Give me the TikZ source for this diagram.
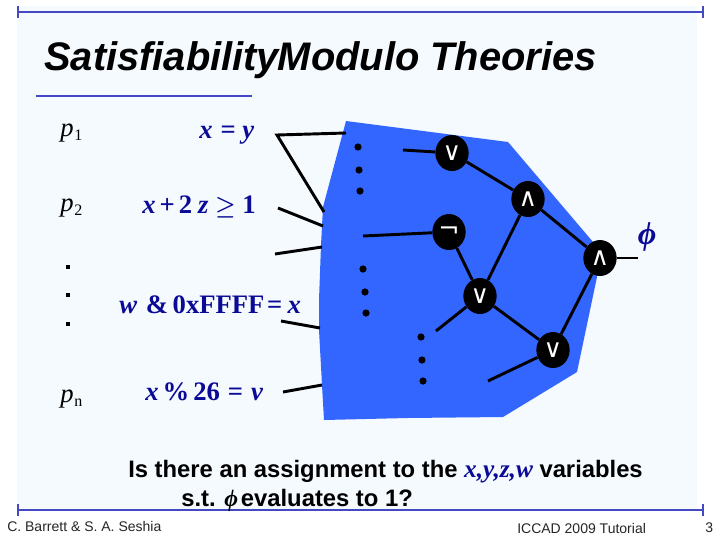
\documentclass[tikz,border=0pt]{standalone}
\usetikzlibrary{shapes.geometric}
\usepackage{amsmath}
\usepackage{fontspec}
\setmainfont{Liberation Sans}
\newfontfamily\tms{Liberation Serif}
\newfontfamily\djv{DejaVu Sans}
\begin{document}
\begin{tikzpicture}[x=0.75pt,y=-0.75pt,
 rule/.style={draw=rulecol,line width=2pt},
 wire/.style={draw=black,line width=2.2pt},
 gate/.style={ellipse,fill=black,minimum width=25pt,minimum height=27pt,inner sep=0pt,text=white,font=\djv\fontsize{19}{19}\selectfont},
 prop/.style={text=navy,font=\tms\bfseries\fontsize{20}{22}\selectfont,inner sep=0pt},
 pvar/.style={font=\tms\itshape\fontsize{20}{22}\selectfont,inner sep=0pt,text=black},
 blob/.style={circle,fill=black,inner sep=0pt,minimum width=5.4pt},
 tiny/.style={rectangle,fill=black,inner sep=0pt,minimum width=2.4pt,minimum height=2.4pt},
 qtext/.style={font=\bfseries\fontsize{17.85}{20}\selectfont,inner sep=0pt},
 foot/.style={font=\fontsize{10.5}{12}\selectfont,inner sep=0pt,text=black!85}]
\definecolor{rulecol}{HTML}{4448C4}
\definecolor{navy}{HTML}{0A0A96}
\definecolor{bluefill}{HTML}{3366FF}
\definecolor{pale}{HTML}{F5FAFF}
\useasboundingbox (0,0) rectangle (720,540);
\fill[white] (0,0) rectangle (720,540);
\fill[pale] (17,6) rectangle (697,510);
\draw[rule] (18,12) -- (703,12);
\draw[rule] (18,6) -- (18,18);
\draw[rule] (703,6) -- (703,18);
\draw[rule] (18,510) -- (703,510);
\draw[rule] (18,504) -- (18,516);
\draw[rule] (703,504) -- (703,516);
\draw[rule] (36,96) -- (252,96);
\node[anchor=base west,inner sep=0pt,font=\bfseries\itshape\fontsize{29.9}{32}\selectfont] (title) at (44,70) {Satisfiability\kern-1pt Modulo Theories};
% blue region
\fill[bluefill] (346,121) -- (508,142) -- (593,242) -- (597,277) -- (577,372) -- (503,417) -- (407,418) -- (324,420) -- (322,385) -- (319,330) -- (319,300) -- (321,245) -- (323,207) -- cycle;
% free ends
\coordinate (a1) at (277,135);
\coordinate (a2) at (346,133);
\coordinate (a3) at (324,212);
\coordinate (b1) at (278,208);
\coordinate (b2) at (323,226);
\coordinate (c1) at (275,254);
\coordinate (c2) at (322,247);
\coordinate (d1) at (281,321);
\coordinate (d2) at (320,328);
\coordinate (e1) at (283,392);
\coordinate (e2) at (322,385);
\coordinate (f1) at (403,150);
\coordinate (f2) at (363,236);
\coordinate (f3) at (436,331);
\coordinate (f4) at (488,381);
\coordinate (out) at (638,258);
\draw[wire] (a2) -- (a1) -- (a3);
\draw[wire] (b1) -- (b2);
\draw[wire] (c1) -- (c2);
\draw[wire] (d1) -- (d2);
\draw[wire] (e1) -- (e2);
% gates
\node[gate] (or1) at (452,153) {∨};
\node[gate] (and1) at (528,199) {∧};
\node[gate] (not1) at (449,232) {¬};
\node[gate] (and2) at (600,258) {∧};
\node[gate] (or2) at (480,296) {∨};
\node[gate] (or3) at (553,350) {∨};
\draw[wire] (f1) -- (or1);
\draw[wire] (or1) -- (and1);
\draw[wire] (and1) -- (and2);
\draw[wire] (and1) -- (or2);
\draw[wire] (f2) -- (not1);
\draw[wire] (not1) -- (or2);
\draw[wire] (or2) -- (f3);
\draw[wire] (or2) -- (or3);
\draw[wire] (and2) -- (or3);
\draw[wire] (or3) -- (f4);
\draw[wire] (and2) -- (out);
% dots
\node[blob] (p1) at (358,147) {};
\node[blob] (p2) at (359,170) {};
\node[blob] (p3) at (360,191) {};
\node[blob] (p4) at (363,269) {};
\node[blob] (p5) at (365,292) {};
\node[blob] (p6) at (366,313) {};
\node[blob] (p7) at (421,337) {};
\node[blob] (p8) at (422,360) {};
\node[blob] (p9) at (423,381) {};
\node[tiny] (v1) at (68,267) {};
\node[tiny] (v2) at (68,295) {};
\node[tiny] (v3) at (68,324) {};
% labels
\node[pvar,anchor=base west] (pa) at (60,136) {p\kern0.5pt{\upshape\fontsize{12}{12}\selectfont\raisebox{-3pt}{1}}};
\node[pvar,anchor=base west] (pb) at (60,211) {p\kern0.5pt{\upshape\fontsize{12}{12}\selectfont\raisebox{-3pt}{2}}};
\node[pvar,anchor=base west] (pc) at (60,402) {p\kern0.5pt{\upshape\fontsize{12}{12}\selectfont\raisebox{-3pt}{n}}};
\node[prop,anchor=base west] (l1) at (199,138) {\textit{x}\kern6pt=\kern5pt\textit{y}};
\node[prop,anchor=base west] (l2) at (142,213) {\textit{x}\kern3pt+\kern3pt2\kern4.5pt\textit{z}\kern5pt{\fontsize{16}{16}\selectfont\boldmath$\geq$}\kern5pt1};
\node[prop,anchor=base west] (l3) at (119,313) {\textit{w}\kern6.5pt\&\kern3.5pt0xFFFF\kern2pt=\kern4pt\textit{x}};
\node[prop,anchor=base west] (l4) at (145,400) {\textit{x}\kern3pt\%\kern3pt26\kern6pt=\kern6pt\textit{v}};
\node[text=navy,inner sep=0pt,font=\tms\bfseries\itshape\fontsize{24}{24}\selectfont] (phi) at (647,237) {ϕ};
% question
\node[qtext,anchor=base west] (q1) at (128,477) {Is there an assignment to the {\tms\itshape\fontsize{19}{20}\selectfont\color{navy}x,y,z,w} variables};
\node[qtext,anchor=base west] (q2) at (181,506) {s.t. {\tms\bfseries\itshape ϕ}\kern2pt evaluates to 1?};
% footer
\node[foot,anchor=base west] (fl) at (7,531) {C. Barrett \& S. A. Seshia};
\node[foot,anchor=base west] (fc) at (517,533) {ICCAD 2009 Tutorial};
\node[foot,anchor=base west] (fr) at (705,532) {3};
\end{tikzpicture}
\end{document}
